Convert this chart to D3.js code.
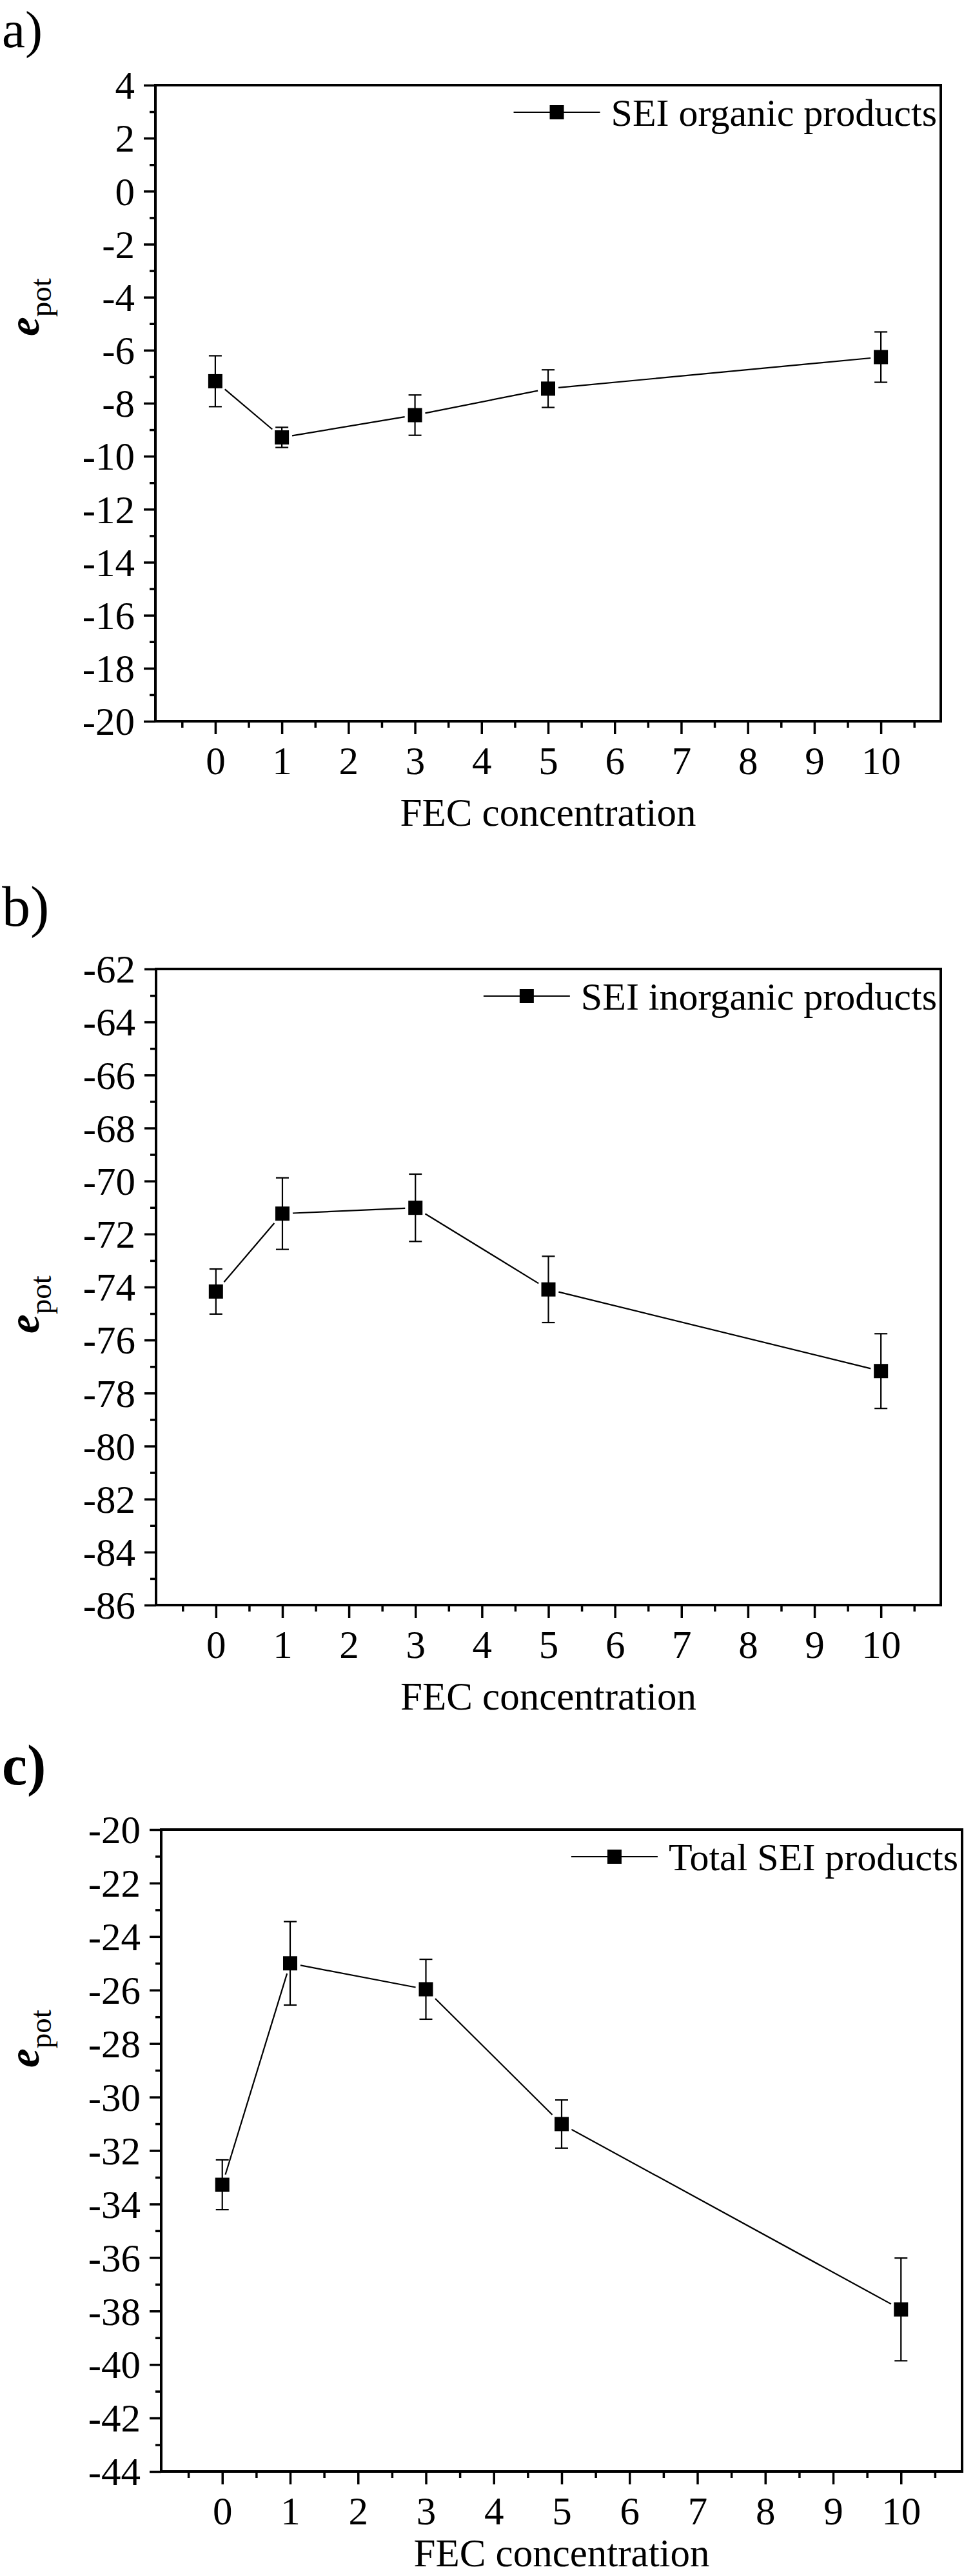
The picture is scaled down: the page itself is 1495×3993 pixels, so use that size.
<!DOCTYPE html>
<html>
<head>
<meta charset="utf-8">
<script src="https://cdn.jsdelivr.net/npm/d3@7"></script>
<style>
  html, body { margin: 0; padding: 0; background: #ffffff; }
  svg { display: block; }
  text { font-family: "Liberation Serif", "Times New Roman", serif; fill: #000; }
</style>
</head>
<body>
<svg id="chart" width="1495" height="3993"></svg>
<script>
// ---------- data ----------
const fecConcentration = [0, 1, 3, 5, 10];
const xTickValues = [0, 1, 2, 3, 4, 5, 6, 7, 8, 9, 10];
const xMinorValues = [-0.5, 0.5, 1.5, 2.5, 3.5, 4.5, 5.5, 6.5, 7.5, 8.5, 9.5, 10.5];

const organicValues = [-7.17, -9.29, -8.45, -7.45, -6.26];
const organicErrors = [0.96, 0.38, 0.76, 0.71, 0.95];
const organicTicks = [4, 2, 0, -2, -4, -6, -8, -10, -12, -14, -16, -18, -20];

const inorganicValues = [-74.17, -71.23, -71.01, -74.09, -77.17];
const inorganicErrors = [0.85, 1.35, 1.27, 1.25, 1.41];
const inorganicTicks = [-62, -64, -66, -68, -70, -72, -74, -76, -78, -80, -82, -84, -86];

const totalValues = [-33.28, -25.0, -25.97, -31.01, -37.94];
const totalErrors = [0.93, 1.56, 1.12, 0.90, 1.92];
const totalTicks = [-20, -22, -24, -26, -28, -30, -32, -34, -36, -38, -40, -42, -44];

const panelLetters = ["a)", "b)", "c)"];
const legendNames = ["SEI organic products", "SEI inorganic products", "Total SEI products"];
const xTitle = "FEC concentration";

// ---------- layout ----------
const H = 3993;
const panels = [
  { letter: panelLetters[0], bold: false, name: legendNames[0], values: organicValues, errors: organicErrors, ticks: organicTicks,
    left: 241, right: 1459, top: 132, bottom: 1118, letterY: 73, ylabelY: 476 },
  { letter: panelLetters[1], bold: false, name: legendNames[1], values: inorganicValues, errors: inorganicErrors, ticks: inorganicTicks,
    left: 242, right: 1459, top: 1502, bottom: 2488, letterY: 1435, ylabelY: 2022 },
  { letter: panelLetters[2], bold: true, name: legendNames[2], values: totalValues, errors: totalErrors, ticks: totalTicks,
    left: 250, right: 1492, top: 2836, bottom: 3831, letterY: 2766, ylabelY: 3160 }
];

const svg = d3.select("#chart");
svg.append("rect").attr("width", 1495).attr("height", H).attr("fill", "#fff");

const MARK = 22, GAP = 5;
const fmt = d => String(d);   // plain hyphen-minus like the reference

panels.forEach((p, pi) => {
  const x = d3.scaleLinear().domain([-0.9, 10.9]).range([p.left, p.right]);
  const yMax = d3.max(p.ticks), yMin = d3.min(p.ticks);
  const y = d3.scaleLinear().domain([yMin, yMax]).range([p.bottom, p.top]);
  const g = svg.append("g");

  // panel letter
  g.append("text").attr("x", 3).attr("y", p.letterY)
    .attr("font-size", pi === 0 ? 81 : 88).attr("font-weight", p.bold ? "bold" : "normal")
    .text(p.letter);

  // y major axis
  const yAxis = g.append("g").attr("transform", `translate(${p.left},0)`)
    .call(d3.axisLeft(y).tickValues(p.ticks).tickSize(18).tickSizeOuter(0).tickPadding(14).tickFormat(fmt));
  const yMinorVals = p.ticks.slice(0, -1).map(t => t - 1);
  const yMinor = g.append("g").attr("transform", `translate(${p.left},0)`)
    .call(d3.axisLeft(y).tickValues(yMinorVals).tickSize(9).tickSizeOuter(0).tickFormat(""));
  // x major / minor axis
  const xAxis = g.append("g").attr("transform", `translate(0,${p.bottom})`)
    .call(d3.axisBottom(x).tickValues(xTickValues).tickSize(20).tickSizeOuter(0).tickFormat(fmt));
  const xMinor = g.append("g").attr("transform", `translate(0,${p.bottom})`)
    .call(d3.axisBottom(x).tickValues(xMinorValues).tickSize(10).tickSizeOuter(0).tickFormat(""));

  [yAxis, yMinor, xAxis, xMinor].forEach(a => {
    a.attr("font-family", null).attr("font-size", null);
    a.select(".domain").remove();
    a.selectAll(".tick line").attr("stroke", "#000").attr("stroke-width", 3.5);
  });
  yAxis.selectAll(".tick text").attr("font-size", 61).attr("dy", "0.34em").attr("fill", "#000");
  xAxis.selectAll(".tick text").attr("font-size", 61).attr("y", 82).attr("dy", null).attr("fill", "#000");

  // frame
  g.append("rect").attr("x", p.left).attr("y", p.top)
    .attr("width", p.right - p.left).attr("height", p.bottom - p.top)
    .attr("fill", "none").attr("stroke", "#000").attr("stroke-width", 4);

  // x title (kept inside the canvas)
  g.append("text").attr("x", (p.left + p.right) / 2).attr("y", Math.min(p.bottom + 162, H - 15))
    .attr("text-anchor", "middle").attr("font-size", 61).text(xTitle);

  // y title: e_pot
  const yl = g.append("text")
    .attr("transform", `translate(60,${p.ylabelY}) rotate(-90)`)
    .attr("text-anchor", "middle");
  yl.append("tspan").attr("font-size", 67).attr("font-weight", "bold").attr("font-style", "italic").text("e");
  yl.append("tspan").attr("font-size", 47).attr("dy", 19).text("pot");

  // data
  const pts = fecConcentration.map((c, i) => ({ x: x(c), y: y(p.values[i]), lo: y(p.values[i] - p.errors[i]), hi: y(p.values[i] + p.errors[i]) }));

  // error bars
  const eb = g.append("g").attr("stroke", "#000").attr("stroke-width", 2.2);
  pts.forEach(d => {
    eb.append("line").attr("x1", d.x).attr("x2", d.x).attr("y1", d.hi).attr("y2", d.lo);
    eb.append("line").attr("x1", d.x - 10).attr("x2", d.x + 10).attr("y1", d.hi).attr("y2", d.hi);
    eb.append("line").attr("x1", d.x - 10).attr("x2", d.x + 10).attr("y1", d.lo).attr("y2", d.lo);
  });

  // connecting line segments with gaps around markers
  const ln = g.append("g").attr("stroke", "#000").attr("stroke-width", 2.2);
  for (let i = 0; i < pts.length - 1; i++) {
    const a = pts[i], b = pts[i + 1];
    const dx = b.x - a.x, dy = b.y - a.y, L = Math.hypot(dx, dy);
    const ux = dx / L, uy = dy / L;
    const off = (MARK / 2) / Math.max(Math.abs(ux), Math.abs(uy)) + GAP;
    ln.append("line")
      .attr("x1", a.x + ux * off).attr("y1", a.y + uy * off)
      .attr("x2", b.x - ux * off).attr("y2", b.y - uy * off);
  }

  // markers
  g.append("g").selectAll("rect").data(pts).join("rect")
    .attr("x", d => d.x - MARK / 2).attr("y", d => d.y - MARK / 2)
    .attr("width", MARK).attr("height", MARK).attr("fill", "#000");

  // legend
  const base = p.top + 63;
  const lt = g.append("text").attr("x", p.right - 6).attr("y", base)
    .attr("text-anchor", "end").attr("font-size", 60).text(p.name);
  const tw = lt.node().getComputedTextLength();
  const lineEnd = p.right - 6 - tw - 17;
  const lineStart = lineEnd - 134;
  const ly = base - 21;
  g.append("line").attr("x1", lineStart).attr("x2", lineEnd).attr("y1", ly).attr("y2", ly)
    .attr("stroke", "#000").attr("stroke-width", 2.2);
  g.append("rect").attr("x", (lineStart + lineEnd) / 2 - MARK / 2).attr("y", ly - MARK / 2)
    .attr("width", MARK).attr("height", MARK).attr("fill", "#000");
});
</script>
</body>
</html>
